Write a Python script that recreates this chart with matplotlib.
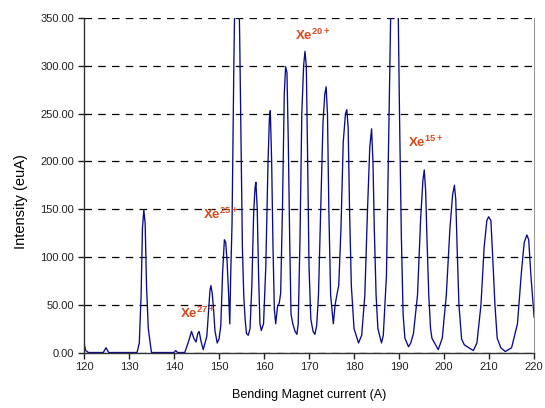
import matplotlib
matplotlib.use("Agg")
import matplotlib.pyplot as plt
from matplotlib.ticker import MultipleLocator, FormatStrFormatter

plt.rcParams['font.family'] = ['Liberation Sans', 'DejaVu Sans']
plt.rcParams['mathtext.fontset'] = 'custom'
plt.rcParams['mathtext.rm'] = 'Liberation Sans:bold'
plt.rcParams['mathtext.bf'] = 'Liberation Sans:bold'
plt.rcParams['mathtext.it'] = 'Liberation Sans:bold'

# Bending magnet scan: magnet current (A) vs. beam intensity (euA)
current = [
    120.0, 120.4, 121.0, 124.3, 124.9, 125.5, 131.8, 132.3, 132.7, 133.0,
    133.3, 133.6, 133.9, 134.3, 135.0, 140.0, 140.4, 140.8, 142.4, 143.2,
    143.9, 144.4, 144.9, 145.3, 145.6, 146.0, 146.5, 146.9, 147.3, 147.7,
    148.0, 148.2, 148.5, 148.8, 149.1, 149.6, 150.0, 150.4, 150.8, 151.2,
    151.5, 151.8, 152.1, 152.4, 152.6, 152.9, 153.3, 153.6, 154.1, 154.6,
    154.9, 155.2, 155.5, 155.8, 156.1, 156.5, 156.9, 157.3, 157.7, 158.0,
    158.2, 158.5, 158.8, 159.1, 159.4, 159.9, 160.4, 160.9, 161.2, 161.4,
    161.7, 162.0, 162.3, 162.6, 163.0, 163.4, 163.7, 164.1, 164.5, 164.8,
    165.1, 165.4, 165.7, 166.0, 166.4, 166.9, 167.3, 167.6, 168.0, 168.4,
    168.8, 169.1, 169.4, 169.7, 170.0, 170.4, 170.9, 171.3, 171.7, 172.1,
    172.6, 173.1, 173.5, 173.8, 174.1, 174.4, 174.8, 175.4, 175.8, 176.3,
    176.6, 177.1, 177.6, 178.1, 178.4, 178.7, 179.0, 179.4, 180.0, 181.0,
    181.7, 182.4, 183.0, 183.5, 183.9, 184.2, 184.5, 184.9, 185.3, 186.1,
    186.5, 187.2, 187.8, 188.3, 189.0, 189.7, 190.1, 190.5, 190.9, 191.3,
    192.1, 192.6, 193.2, 194.1, 194.8, 195.3, 195.6, 195.9, 196.2, 196.6,
    197.0, 197.3, 198.7, 199.6, 200.5, 201.3, 201.9, 202.3, 202.6, 202.9,
    203.3, 203.9, 204.5, 206.5, 207.3, 208.2, 208.9, 209.5, 209.9, 210.4,
    210.8, 211.3, 211.8, 212.6, 213.6, 215.0, 216.3, 217.2, 217.8, 218.4,
    218.8, 219.3, 220.0,
]
intensity = [
    10, 2, 0, 0, 5, 0, 0, 10, 60, 130,
    149, 135, 70, 25, 0, 0, 2, 0, 0, 11,
    22, 15, 11, 20, 22, 12, 3, 10, 17, 45,
    65, 70, 62, 45, 23, 10, 14, 28, 83, 118,
    115, 95, 65, 30, 80, 135, 300, 400, 470, 330,
    220, 110, 60, 35, 20, 18, 25, 70, 145, 172,
    178, 150, 80, 30, 23, 30, 90, 200, 245, 253,
    200, 110, 45, 30, 48, 52, 62, 150, 270, 299,
    293, 220, 120, 40, 30, 22, 19, 30, 120, 250,
    300, 315, 300, 200, 90, 35, 22, 19, 28, 60,
    150, 240, 270, 278, 250, 150, 60, 30, 50, 63,
    70, 130, 220, 250, 254, 235, 150, 70, 25, 10,
    18, 60, 150, 215, 234, 200, 130, 60, 25, 10,
    18, 80, 250, 400, 500, 400, 250, 124, 40, 15,
    6, 10, 20, 60, 140, 180, 191, 170, 120, 60,
    25, 15, 3, 15, 60, 130, 165, 175, 160, 110,
    50, 14, 8, 2, 10, 50, 110, 138, 142, 138,
    100, 50, 15, 5, 1, 5, 30, 85, 115, 123,
    118, 80, 37,
]

# Charge-state annotations: (label, current, intensity)
charge_labels = [r'$\mathbf{Xe}^{\mathbf{27+}}$', r'$\mathbf{Xe}^{\mathbf{25+}}$',
                 r'$\mathbf{Xe}^{\mathbf{20+}}$', r'$\mathbf{Xe}^{\mathbf{15+}}$']
label_x = [145.3, 150.3, 170.7, 196.0]
label_y = [41, 144, 332, 220]

fig = plt.figure(figsize=(5.45, 4.08), dpi=100)
ax = fig.add_axes([0.154, 0.136, 0.826, 0.820])

ax.plot(current, intensity, color='#0a0a8c', linewidth=0.95)

ax.set_xlim(120, 220)
ax.set_ylim(0, 350)
ax.xaxis.set_major_locator(MultipleLocator(10))
ax.yaxis.set_major_locator(MultipleLocator(50))
ax.yaxis.set_major_formatter(FormatStrFormatter('%.2f'))
ax.tick_params(axis='both', direction='out', length=4, width=1,
               labelsize=8, colors='#222222', pad=3)

ax.yaxis.grid(True, color='black', linestyle=(0, (6, 5)), linewidth=0.9)
ax.set_axisbelow(True)

for side in ('left', 'bottom'):
    ax.spines[side].set_color('#333333')
    ax.spines[side].set_linewidth(1.0)
ax.spines['right'].set_color('#9a9a9a')
ax.spines['top'].set_visible(False)

ax.set_xlabel('Bending Magnet current (A)', fontsize=9, labelpad=12)
ax.set_ylabel('Intensity (euA)', fontsize=10.5)
ax.yaxis.set_label_coords(-0.124, 0.45)

for text, lx, ly in zip(charge_labels, label_x, label_y):
    ax.text(lx, ly, text, color='#d84a1b', fontsize=9.5,
            ha='center', va='center')

fig.savefig('out.png', dpi=100)
